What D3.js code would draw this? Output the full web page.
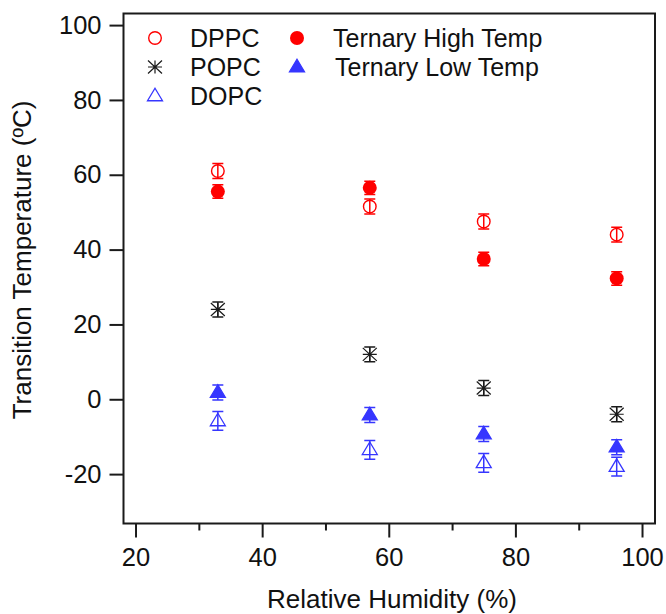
<!DOCTYPE html>
<html><head><meta charset="utf-8">
<script src="https://cdn.jsdelivr.net/npm/d3@7"></script>
<style>body{margin:0;background:#fff}svg{display:block}text{font-family:"Liberation Sans",Arial,sans-serif}</style>
</head><body><svg id="c" width="666" height="614"></svg>
<script>
const humidity = [33, 57, 75, 96];
const dppc = [61, 51.5, 47.5, 44];
const dppcErr = [2, 2, 2, 2];
const ternaryHigh = [55.5, 56.5, 37.5, 32.3];
const ternaryHighErr = [1.8, 1.8, 1.8, 1.8];
const popc = [24, 12, 3, -4];
const popcErr = [2, 2, 2, 2];
const ternaryLow = [1.8, -4.2, -9.3, -12.8];
const ternaryLowErr = [2, 2, 2, 2];
const dopc = [-5.8, -13.5, -17, -18];
const dopcErr = [2.5, 2.5, 2.5, 2.5];
const xTicks = [20, 40, 60, 80, 100];
const xMinorTicks = [30, 50, 70, 90];
const yTicks = [-20, 0, 20, 40, 60, 80, 100];

const RED = "#ff0000", BLUE = "#3636ff", BLACK = "#1a1a1a";
const series = [
  {name: "DPPC", vals: dppc, err: dppcErr, sym: "circleOpen", color: RED},
  {name: "Ternary High Temp", vals: ternaryHigh, err: ternaryHighErr, sym: "circleFilled", color: RED},
  {name: "POPC", vals: popc, err: popcErr, sym: "asterisk", color: BLACK},
  {name: "Ternary Low Temp", vals: ternaryLow, err: ternaryLowErr, sym: "triFilled", color: BLUE},
  {name: "DOPC", vals: dopc, err: dopcErr, sym: "triOpen", color: BLUE}
];

const L = 123.5, R = 655, T = 13.5, B = 523.5;
const x = d3.scaleLinear().domain([18.1, 102.05]).range([L, R]);
const y = d3.scaleLinear().domain([-33.2, 103.1]).range([B, T]);
const svg = d3.select("#c");
const fmt = d => String(d);

function drawMarker(g, sym, color, cx, cy) {
  if (sym === "circleOpen") {
    g.append("circle").attr("cx", cx).attr("cy", cy).attr("r", 6.3)
      .attr("fill", "none").attr("stroke", color).attr("stroke-width", 1.4);
  } else if (sym === "circleFilled") {
    g.append("circle").attr("cx", cx).attr("cy", cy).attr("r", 7)
      .attr("fill", color);
  } else if (sym === "triFilled" || sym === "triOpen") {
    const h = 12.5, w = 7.5;
    const p = `M${cx},${cy - h * 0.62} L${cx + w},${cy + h * 0.38} L${cx - w},${cy + h * 0.38} Z`;
    g.append("path").attr("d", p)
      .attr("fill", sym === "triFilled" ? color : "none")
      .attr("stroke", color).attr("stroke-width", 1.3);
  } else if (sym === "asterisk") {
    const s = 7, v = 6.5;
    const p = `M${cx - s},${cy} L${cx + s},${cy} M${cx - s},${cy - v} L${cx + s},${cy + v} M${cx - s},${cy + v} L${cx + s},${cy - v} M${cx},${cy - v} L${cx},${cy + v}`;
    g.append("path").attr("d", p).attr("stroke", color).attr("stroke-width", 1.2).attr("fill", "none");
  }
}

// data
const gData = svg.append("g");
series.forEach(s => {
  humidity.forEach((h, i) => {
    const cx = x(h), cy = y(s.vals[i]);
    const y1 = y(s.vals[i] + s.err[i]), y2 = y(s.vals[i] - s.err[i]);
    const cw = 5.5;
    gData.append("path")
      .attr("d", `M${cx},${y1} L${cx},${y2} M${cx - cw},${y1} L${cx + cw},${y1} M${cx - cw},${y2} L${cx + cw},${y2}`)
      .attr("stroke", s.color).attr("stroke-width", 1.5).attr("fill", "none");
    drawMarker(gData, s.sym, s.color, cx, cy);
  });
});

// frame
svg.append("rect").attr("x", L).attr("y", T).attr("width", R - L).attr("height", B - T)
  .attr("fill", "none").attr("stroke", BLACK).attr("stroke-width", 2);

// x axis
const xAxis = d3.axisBottom(x).tickValues(xTicks).tickSize(14).tickPadding(10).tickFormat(fmt);
const gx = svg.append("g").attr("transform", `translate(0,${B})`).call(xAxis);
gx.select(".domain").remove();
gx.selectAll("line").attr("stroke", BLACK).attr("stroke-width", 2);
gx.selectAll("text").attr("font-size", 25.5).attr("fill", "#111");
const gxm = svg.append("g").attr("transform", `translate(0,${B})`)
  .call(d3.axisBottom(x).tickValues(xMinorTicks).tickSize(7).tickFormat(""));
gxm.select(".domain").remove();
gxm.selectAll("line").attr("stroke", BLACK).attr("stroke-width", 2);

// y axis
const yAxis = d3.axisLeft(y).tickValues(yTicks).tickSize(14).tickPadding(8).tickFormat(fmt);
const gy = svg.append("g").attr("transform", `translate(${L},0)`).call(yAxis);
gy.select(".domain").remove();
gy.selectAll("line").attr("stroke", BLACK).attr("stroke-width", 2);
gy.selectAll("text").attr("font-size", 25.5).attr("fill", "#111");

// titles
svg.append("text").attr("x", 392).attr("y", 608).attr("text-anchor", "middle")
  .attr("font-size", 26).attr("fill", "#111").text("Relative Humidity (%)");
svg.append("text").attr("transform", "translate(31,260) rotate(-90)").attr("text-anchor", "middle")
  .attr("font-size", 26).attr("fill", "#111").text("Transition Temperature (ºC)");

// legend
const legend = [
  {s: series[0], mx: 155, tx: 190, ty: 38},
  {s: series[2], mx: 155, tx: 190, ty: 67},
  {s: series[4], mx: 155, tx: 190, ty: 96},
  {s: series[1], mx: 297, tx: 333, ty: 38},
  {s: series[3], mx: 297, tx: 335, ty: 67}
];
const gl = svg.append("g");
legend.forEach(l => {
  drawMarker(gl, l.s.sym, l.s.color, l.mx, l.ty);
  gl.append("text").attr("x", l.tx).attr("y", l.ty + 9).attr("font-size", 25)
    .attr("fill", "#111").text(l.s.name);
});
</script></body></html>
